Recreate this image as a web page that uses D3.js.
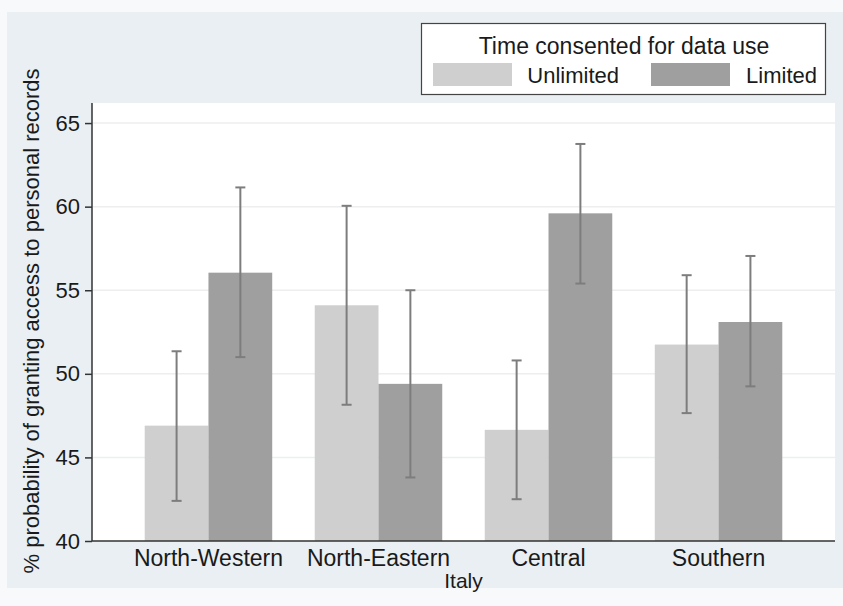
<!DOCTYPE html>
<html>
<head>
<meta charset="utf-8">
<script src="https://cdn.jsdelivr.net/npm/d3@7"></script>
<style>
  body { margin: 0; background: #f7f9fa; }
  text { font-family: "Liberation Sans", Arial, sans-serif; fill: #1a1a1a; }
</style>
</head>
<body>
<svg id="chart" width="843" height="606"></svg>
<script>
// values
var regions = ["North-Western", "North-Eastern", "Central", "Southern"];
var series = ["Unlimited", "Limited"];
var unlimited = [46.9, 54.1, 46.65, 51.75];
var unlimited_lo = [42.4, 48.15, 42.5, 47.65];
var unlimited_hi = [51.35, 60.05, 50.8, 55.9];
var limited = [56.05, 49.4, 59.6, 53.1];
var limited_lo = [51.0, 43.8, 55.4, 49.25];
var limited_hi = [61.15, 55.0, 63.75, 57.05];
var yTicks = [40, 45, 50, 55, 60, 65];

var svg = d3.select("#chart");
var colors = {Unlimited: "#cfcfcf", Limited: "#9f9f9f"};

// outer background
svg.append("rect")
    .attr("x", 7).attr("y", 12)
    .attr("width", 836).attr("height", 576)
    .attr("fill", "#e9eff2");

var plotLeft = 92, plotRight = 835, plotTop = 103, plotBottom = 541;

svg.append("rect")
    .attr("x", plotLeft).attr("y", plotTop)
    .attr("width", plotRight - plotLeft).attr("height", plotBottom - plotTop)
    .attr("fill", "#ffffff");

var y = d3.scaleLinear().domain([40, 66.2]).range([plotBottom, plotTop]);
var x0 = d3.scaleBand().domain(regions).range([plotLeft, plotRight])
    .paddingInner(0.25).paddingOuter(0.31);
var x1 = d3.scaleBand().domain(series).range([0, x0.bandwidth()]);

// gridlines
svg.append("g")
    .selectAll("line")
    .data(yTicks.slice(1))
    .enter().append("line")
    .attr("x1", plotLeft + 1).attr("x2", plotRight)
    .attr("y1", function (d) { return y(d); })
    .attr("y2", function (d) { return y(d); })
    .attr("stroke", "#eceeef")
    .attr("stroke-width", 1.5);

var rows = [];
for (var i = 0; i < regions.length; i++) {
    rows.push({region: regions[i], key: "Unlimited", v: unlimited[i], lo: unlimited_lo[i], hi: unlimited_hi[i]});
    rows.push({region: regions[i], key: "Limited", v: limited[i], lo: limited_lo[i], hi: limited_hi[i]});
}

svg.append("g")
    .selectAll("rect")
    .data(rows)
    .enter().append("rect")
    .attr("x", function (d) { return x0(d.region) + x1(d.key); })
    .attr("y", function (d) { return y(d.v); })
    .attr("width", x1.bandwidth())
    .attr("height", function (d) { return y(40) - y(d.v); })
    .attr("fill", function (d) { return colors[d.key]; });

// error bars
var err = svg.append("g").attr("stroke", "#7d7d7d").attr("stroke-width", 2);
rows.forEach(function (d) {
    var cx = x0(d.region) + x1(d.key) + x1.bandwidth() / 2;
    err.append("line").attr("x1", cx).attr("x2", cx).attr("y1", y(d.lo)).attr("y2", y(d.hi));
    err.append("line").attr("x1", cx - 5).attr("x2", cx + 5).attr("y1", y(d.lo)).attr("y2", y(d.lo));
    err.append("line").attr("x1", cx - 5).attr("x2", cx + 5).attr("y1", y(d.hi)).attr("y2", y(d.hi));
});

// y axis
var yAxis = svg.append("g")
    .attr("transform", "translate(" + plotLeft + ",0)")
    .call(d3.axisLeft(y).tickValues(yTicks).tickSize(7).tickPadding(5));
yAxis.select(".domain").attr("stroke", "#333").attr("stroke-width", 1.5)
    .attr("d", "M0," + plotTop + "V" + plotBottom);
yAxis.selectAll(".tick line").attr("stroke", "#333").attr("stroke-width", 1.5);
yAxis.selectAll(".tick text")
    .style("font-family", "Liberation Sans, Arial, sans-serif")
    .style("font-size", "22px").attr("fill", "#1a1a1a");

// x axis
var xAxis = svg.append("g")
    .attr("transform", "translate(0," + plotBottom + ")")
    .call(d3.axisBottom(x0).tickSize(0).tickPadding(9));
xAxis.select(".domain").attr("stroke", "#333").attr("stroke-width", 1.5)
    .attr("d", "M" + plotLeft + ",0H" + plotRight);
xAxis.selectAll(".tick text")
    .style("font-family", "Liberation Sans, Arial, sans-serif")
    .style("font-size", "23px").attr("fill", "#1a1a1a");

svg.append("text")
    .attr("x", (plotLeft + plotRight) / 2).attr("y", 588)
    .attr("text-anchor", "middle")
    .style("font-size", "21px")
    .text("Italy");

svg.append("text")
    .attr("transform", "translate(39," + 321 + ") rotate(-90)")
    .attr("text-anchor", "middle")
    .style("font-size", "22px")
    .text("% probability of granting access to personal records");

// legend
var lg = svg.append("g");
lg.append("rect")
    .attr("x", 421.5).attr("y", 23.5)
    .attr("width", 404).attr("height", 71)
    .attr("fill", "#ffffff").attr("stroke", "#444").attr("stroke-width", 1.2);
lg.append("text")
    .attr("x", 624).attr("y", 54)
    .attr("text-anchor", "middle")
    .style("font-size", "23px")
    .text("Time consented for data use");
var legendPos = [{sx: 433, tx: 619}, {sx: 651, tx: 817}];
series.forEach(function (s, i) {
    lg.append("rect")
        .attr("x", legendPos[i].sx).attr("y", 63)
        .attr("width", 79).attr("height", 23)
        .attr("fill", colors[s]);
    lg.append("text")
        .attr("x", legendPos[i].tx).attr("y", 83)
        .attr("text-anchor", "end")
        .style("font-size", "22px")
        .text(s);
});
</script>
</body>
</html>
